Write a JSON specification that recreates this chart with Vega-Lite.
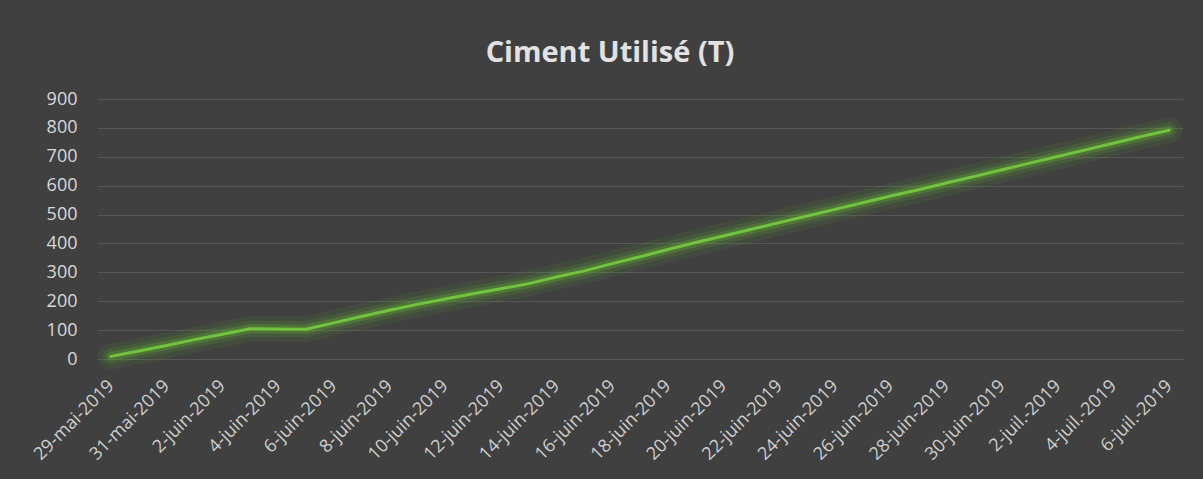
{
  "$schema": "https://vega.github.io/schema/vega-lite/v6.json",
  "width": 1086,
  "height": 260,
  "autosize": {"type": "none"},
  "padding": {"left": 97, "top": 99, "right": 20, "bottom": 120},
  "background": "#404040",
  "config": {"view": {"stroke": null}},
  "title": {
    "text": "Ciment Utilisé (T)",
    "font": "Open Sans",
    "fontSize": 29,
    "fontWeight": "bold",
    "color": "#e2e2e2",
    "anchor": "middle",
    "frame": "group",
    "dx": -30,
    "offset": 22
  },
  "data": {
    "values": [
      {"jour": "29-mai-2019", "ciment": 9},
      {"jour": "30-mai-2019", "ciment": 28},
      {"jour": "31-mai-2019", "ciment": 47},
      {"jour": "1-juin-2019", "ciment": 67},
      {"jour": "2-juin-2019", "ciment": 86},
      {"jour": "3-juin-2019", "ciment": 105},
      {"jour": "4-juin-2019", "ciment": 104},
      {"jour": "5-juin-2019", "ciment": 103},
      {"jour": "6-juin-2019", "ciment": 125},
      {"jour": "7-juin-2019", "ciment": 147},
      {"jour": "8-juin-2019", "ciment": 169},
      {"jour": "9-juin-2019", "ciment": 189},
      {"jour": "10-juin-2019", "ciment": 208},
      {"jour": "11-juin-2019", "ciment": 226},
      {"jour": "12-juin-2019", "ciment": 243},
      {"jour": "13-juin-2019", "ciment": 261},
      {"jour": "14-juin-2019", "ciment": 284},
      {"jour": "15-juin-2019", "ciment": 305},
      {"jour": "16-juin-2019", "ciment": 330},
      {"jour": "17-juin-2019", "ciment": 354},
      {"jour": "18-juin-2019", "ciment": 379},
      {"jour": "19-juin-2019", "ciment": 403},
      {"jour": "20-juin-2019", "ciment": 426},
      {"jour": "21-juin-2019", "ciment": 449},
      {"jour": "22-juin-2019", "ciment": 472},
      {"jour": "23-juin-2019", "ciment": 495},
      {"jour": "24-juin-2019", "ciment": 518},
      {"jour": "25-juin-2019", "ciment": 541},
      {"jour": "26-juin-2019", "ciment": 564},
      {"jour": "27-juin-2019", "ciment": 586},
      {"jour": "28-juin-2019", "ciment": 609},
      {"jour": "29-juin-2019", "ciment": 632},
      {"jour": "30-juin-2019", "ciment": 655},
      {"jour": "1-juil.-2019", "ciment": 678},
      {"jour": "2-juil.-2019", "ciment": 701},
      {"jour": "3-juil.-2019", "ciment": 724},
      {"jour": "4-juil.-2019", "ciment": 747},
      {"jour": "5-juil.-2019", "ciment": 770},
      {"jour": "6-juil.-2019", "ciment": 792}
    ]
  },
  "encoding": {
    "x": {
      "field": "jour",
      "type": "ordinal",
      "sort": null,
      "scale": {"type": "point", "padding": 0.5},
      "axis": {
        "title": null,
        "values": ["29-mai-2019", "31-mai-2019", "2-juin-2019", "4-juin-2019", "6-juin-2019", "8-juin-2019", "10-juin-2019", "12-juin-2019", "14-juin-2019", "16-juin-2019", "18-juin-2019", "20-juin-2019", "22-juin-2019", "24-juin-2019", "26-juin-2019", "28-juin-2019", "30-juin-2019", "2-juil.-2019", "4-juil.-2019", "6-juil.-2019"],
        "grid": false,
        "domain": false,
        "ticks": false,
        "labelAngle": -45,
        "labelAlign": "right",
        "labelBaseline": "middle",
        "labelPadding": 24,
        "labelFont": "Open Sans",
        "labelFontSize": 18,
        "labelFontWeight": 500,
        "labelColor": "#cfcfcf",
        "labelOverlap": false
      }
    },
    "y": {
      "field": "ciment",
      "type": "quantitative",
      "scale": {"domain": [0, 900]},
      "axis": {
        "title": null,
        "values": [0, 100, 200, 300, 400, 500, 600, 700, 800, 900],
        "domain": false,
        "ticks": false,
        "grid": true,
        "gridColor": "#575757",
        "gridWidth": 1,
        "labelPadding": 20,
        "labelFont": "Open Sans",
        "labelFontSize": 18,
        "labelFontWeight": 500,
        "labelColor": "#d9d9d9"
      }
    }
  },
  "layer": [
    {"mark": {"type": "line", "color": "#5fae2e", "strokeWidth": 26, "opacity": 0.09, "strokeCap": "round", "strokeJoin": "round"}},
    {"mark": {"type": "line", "color": "#5fae2e", "strokeWidth": 16, "opacity": 0.16, "strokeCap": "round", "strokeJoin": "round"}},
    {"mark": {"type": "line", "color": "#66b634", "strokeWidth": 9, "opacity": 0.28, "strokeCap": "round", "strokeJoin": "round"}},
    {"mark": {"type": "line", "color": "#72c33e", "strokeWidth": 3, "strokeCap": "round", "strokeJoin": "round"}}
  ]
}
